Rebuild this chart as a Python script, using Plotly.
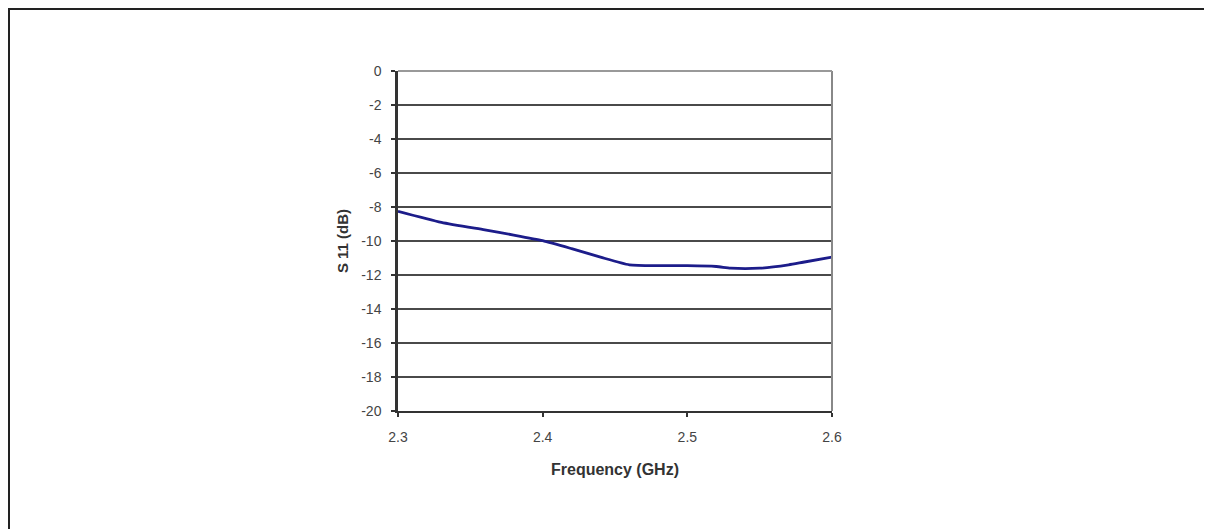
import plotly.graph_objects as go

freq = [2.30, 2.33, 2.36, 2.38, 2.40, 2.42, 2.44, 2.46, 2.48, 2.50, 2.52, 2.53, 2.55, 2.57, 2.58, 2.60]
s11 = [-8.25, -8.9, -9.35, -9.65, -9.98, -10.45, -10.95, -11.4, -11.45, -11.45, -11.5, -11.6, -11.6, -11.4, -11.25, -10.95]
xticks = [2.3, 2.4, 2.5, 2.6]
xticklabels = ["2.3", "2.4", "2.5", "2.6"]
yticks = list(range(0, -21, -2))

W, H = 1212, 529
# page body has an 8px margin, so positions are shifted by 8px
ml, mr, mt, mb = 390, 388, 63, 126
pw, ph = W - ml - mr, H - mt - mb

def px2x(px):
    return (px - ml) / pw

def py2y(py):
    return 1 - (py - mt) / ph

fig = go.Figure()
fig.add_trace(go.Scatter(x=freq, y=s11, mode="lines",
                         line=dict(color="#1c1c8a", width=2.8, shape="spline", smoothing=0.6),
                         showlegend=False, hoverinfo="skip"))

fig.update_layout(
    width=W, height=H,
    margin=dict(l=ml, r=mr, t=mt, b=mb),
    paper_bgcolor="white", plot_bgcolor="white",
    font=dict(family="Liberation Sans, Arial, sans-serif", color="#333333", size=13),
    xaxis=dict(range=[2.3, 2.6], tickvals=xticks, ticktext=xticklabels,
               showgrid=False, zeroline=False, showline=True, linecolor="#333333", linewidth=2,
               ticks="outside", ticklen=4, tickcolor="#333333", tickwidth=1.5,
               ticklabelstandoff=8,
               tickfont=dict(size=14, color="#444444"),
               title=dict(text="<b>Frequency (GHz)</b>", font=dict(size=16, color="#333333"), standoff=20)),
    yaxis=dict(range=[-20, 0], tickvals=yticks, ticktext=[str(v) for v in yticks],
               showgrid=True, gridcolor="#4a4a4a", gridwidth=1.7, zeroline=False,
               showline=True, linecolor="#333333", linewidth=2.5,
               ticks="outside", ticklen=4, tickcolor="#333333", tickwidth=1.5,
               ticklabelstandoff=7,
               tickfont=dict(size=14, color="#444444"),
               title=dict(text="<b>S 11 (dB)</b>", font=dict(size=15, color="#333333"), standoff=9)),
    shapes=[
        dict(type="line", xref="paper", yref="paper", x0=1, x1=1, y0=0, y1=1,
             line=dict(color="#888888", width=2)),
        dict(type="line", xref="paper", yref="paper", x0=0, x1=1, y0=1, y1=1,
             line=dict(color="#999999", width=2)),
        dict(type="rect", xref="paper", yref="paper",
             x0=px2x(1), x1=px2x(1198), y0=py2y(545), y1=py2y(1),
             line=dict(color="#222222", width=2), fillcolor="rgba(0,0,0,0)", layer="below"),
    ],
)

fig.write_html("out.html")
